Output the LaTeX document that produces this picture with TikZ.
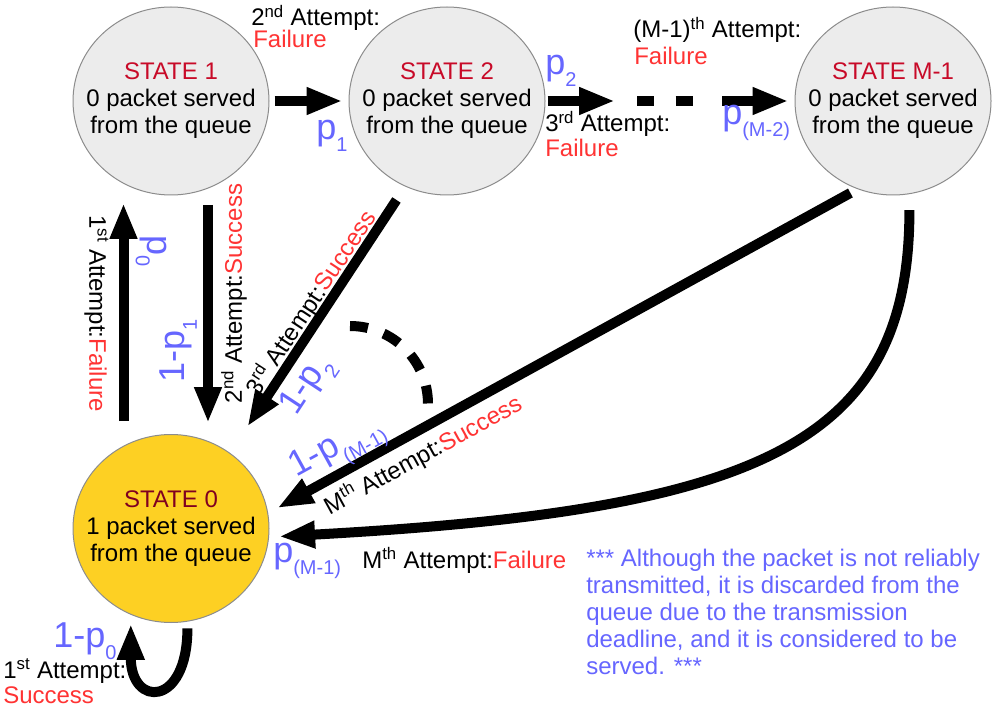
\documentclass[tikz,border=0pt]{standalone}
\usepackage{fontspec}
\setmainfont{Liberation Sans}
\usetikzlibrary{arrows.meta,shapes.geometric}
\definecolor{stfill}{RGB}{236,236,236}
\definecolor{stborder}{RGB}{140,140,140}
\definecolor{styellow}{RGB}{253,208,35}
\definecolor{statered}{RGB}{200,10,40}
\definecolor{stzerored}{RGB}{128,0,32}
\definecolor{failred}{RGB}{255,51,51}
\definecolor{problue}{RGB}{102,102,255}
\newcommand\psub[1]{\raisebox{-9pt}{\fontsize{15}{15}\selectfont #1}}
\newcommand\failtxt{\textcolor{failred}{Failure}}
\newcommand\succtxt{\textcolor{failred}{Success}}

\begin{document}
\begin{tikzpicture}[x=0.75pt,y=-0.75pt,
		state/.style={ellipse, draw=stborder, line width=0.75pt, fill=stfill, minimum width=147pt, minimum height=141pt, inner sep=-16pt, align=center, font=\fontsize{18}{20.25}\selectfont},
		big/.style={line width=7.5pt, -{Triangle[length=27pt,width=19pt]}},
		lbl/.style={inner sep=0pt, font=\fontsize{18}{18}\selectfont},
		prob/.style={inner sep=0pt, text=problue, font=\fontsize{27}{27}\selectfont}]
		% --- Lienzo (pixeles, y hacia abajo) ---
		\fill[white] (0,0) rectangle (998,716);
		\useasboundingbox (0,0) rectangle (998,716);

		% --- Estados ---
		\node[state] (s1) at (171,101) {\textcolor{statered}{STATE 1}\\0 packet served\\from the queue};
		\node[state] (s2) at (447,101) {\textcolor{statered}{STATE 2}\\0 packet served\\from the queue};
		\node[state] (sm) at (893,101) {\textcolor{statered}{STATE M-1}\\0 packet served\\from the queue};
		\node[state, fill=styellow] (s0) at (171,528.5) {\textcolor{stzerored}{STATE 0}\\1 packet served\\from the queue};

		% --- Cadena de fallos (arriba) ---
		\coordinate (gapL) at (615,101);
		\coordinate (dashA) at (637,101);
		\coordinate (dashB) at (694,101);
		\coordinate (gapR) at (722,101);
		\draw[big, shorten <=3.75pt, shorten >=4.5pt] (s1.east) -- (s2.west);
		\draw[big, shorten <=1.5pt] (s2.east) -- (gapL);
		\draw[line width=7.5pt, dash pattern=on 13pt off 16pt] (dashA) -- (dashB);
		\draw[big, shorten >=4.5pt] (gapR) -- (sm.west);

		% --- Flechas verticales ---
		\draw[big, shorten <=9.75pt, shorten >=5.6pt] ([shift={(-47.5,0)}]s0.north) -- ([shift={(-47.5,0)}]s1.south);
		\draw[big, shorten <=7pt, shorten >=8.25pt] ([shift={(37,0)}]s1.south) -- ([shift={(37,0)}]s0.north);

		% --- Exitos hacia el estado 0 ---
		\draw[big, shorten <=12pt, shorten >=23.6pt] (s2.244) -- (s0.52);
		\draw[big, shorten <=6pt, shorten >=7.8pt] (sm.248) -- (s0.9);
		\draw[big, shorten <=12pt, shorten >=7.5pt] (sm.-80) .. controls +(0,250) and +(492,-27) .. (s0.-5);
		\draw[line width=7.5pt, dash pattern=on 13.5pt off 12.5pt] (350,326) arc[start angle=-90, end angle=0, radius=78];

		% --- Lazo del estado 0 ---
		\draw[big, shorten <=5pt, shorten >=6.75pt] (s0.-80) .. controls +(0,86) and +(0,93) .. (s0.-115);

		% --- Etiquetas ---
		\node[lbl, anchor=base west] (a2) at (251,26) {2\textsuperscript{nd} Attempt:};
		\node[lbl, anchor=base west, text=failred] (f2) at (253,48) {Failure};
		\node[prob, anchor=base west] (p1) at (316,140) {p\psub{1}};
		\node[prob, anchor=base west] (p2) at (545,75) {p\psub{2}};
		\node[lbl, anchor=base west] (a3) at (545,132) {3\textsuperscript{rd} Attempt:};
		\node[lbl, anchor=base west, text=failred] (f3) at (545,157) {Failure};
		\node[lbl, anchor=base west] (am) at (633,38) {(M-1)\textsuperscript{th} Attempt:};
		\node[lbl, anchor=base west, text=failred] (fm) at (634,65) {Failure};
		\node[prob, anchor=base west] (pm2) at (722,125) {p\psub{(M-2)}};

		\node[lbl, rotate=-90] (a1f) at (96.5,313.5) {1\textsuperscript{st} Attempt:\failtxt};
		\node[prob, rotate=-90] (p0) at (151.5,251.5) {p\psub{0}};
		\node[lbl, rotate=90] (a2s) at (234,293.5) {2\textsuperscript{nd} Attempt:\succtxt};
		\node[prob, rotate=90] (q1) at (178.5,351) {1-p\psub{1}};

		\node[lbl, rotate=56.7] (a3s) at (311,303) {3\textsuperscript{rd} Attempt:\succtxt};
		\node[prob, rotate=56.7] (q2) at (308,387) {1-p\psub{2}};
		\node[prob, rotate=28.8] (qm) at (338,450) {1-p\psub{(M-1)}};
		\node[lbl, rotate=28.8] (ams) at (423,455) {M\textsuperscript{th} Attempt:\succtxt};

		\node[prob, anchor=base west] (pm1) at (273,562) {p\psub{(M-1)}};
		\node[lbl, anchor=base west] (amf) at (362,568) {M\textsuperscript{th} Attempt:\failtxt};
		\node[prob, anchor=base west] (q0) at (53,647) {1-p\psub{0}};
		\node[lbl, anchor=base west] (a1) at (3,678) {1\textsuperscript{st} Attempt:};
		\node[lbl, anchor=base west, text=failred] (a1t) at (3,703) {Success};

		% --- Nota ---
		\node[anchor=north west, align=left, inner sep=0pt, text=problue, font=\fontsize{18}{20.25}\selectfont] (note) at (586,548.5)
			{*** Although the packet is not reliably\\transmitted, it is discarded from the\\queue due to the transmission\\deadline, and it is considered to be\\served. ***};
	\end{tikzpicture}
\end{document}
